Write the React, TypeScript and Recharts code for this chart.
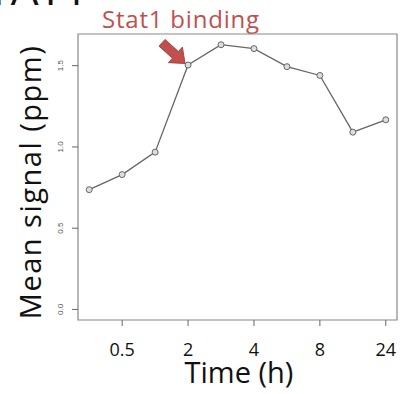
import { LineChart, Line, XAxis, YAxis, ReferenceArea, Customized } from 'recharts';

// mean STAT1 signal at each of the ten sampled time points
const signal = [0.737, 0.83, 0.968, 1.504, 1.629, 1.605, 1.494, 1.44, 1.091, 1.167];
// only every second time point gets a label on the axis
const timeTicks = [2, 4, 6, 8, 10];
const timeLabels = ['0.5', '2', '4', '8', '24'];
const signalTicks = [0, 0.5, 1, 1.5];
const bindingIndex = 3;

const data = signal.map((v, i) => ({ t: i + 1, v }));

const X_DOMAIN: [number, number] = [0.66, 10.34];
const Y_DOMAIN: [number, number] = [-0.065, 1.695];
const GREY = '#666';
const RED = '#c0504d';

const XTick = (props: any) => {
  const i = timeTicks.indexOf(props.payload.value);
  return (
    <text x={props.x} y={356} textAnchor="middle" fontSize={18} fontFamily="Open Sans" fill="#111">
      {timeLabels[i]}
    </text>
  );
};

const YTick = (props: any) => (
  <text
    x={63}
    y={props.y}
    transform={`rotate(-90, 63, ${props.y})`}
    textAnchor="middle"
    fontSize={8}
    fontFamily="Liberation Sans"
    fill="#555"
  >
    {props.payload.value.toFixed(1)}
  </text>
);

// open circle per point; the binding point also gets the block arrow
const Dot = (props: any) => {
  const { cx, cy, index } = props;
  const arrow =
    index === bindingIndex ? (
      <polygon
        points="0,-4.5 18,-4.5 18,-10.5 31,0 18,10.5 18,4.5 0,4.5"
        transform={`translate(${cx - 3}, ${cy - 1.5}) rotate(42) translate(-31, 0)`}
        fill={RED}
        stroke="#9e3a36"
        strokeWidth={0.8}
      />
    ) : null;
  return (
    <g key={`dot-${index}`}>
      {arrow}
      <circle cx={cx} cy={cy} r={3} fill="#ddd" stroke={GREY} strokeWidth={1} />
    </g>
  );
};

const Titles = () => (
  <g fontFamily="Open Sans">
    <text x={88} y={5} textAnchor="end" fontSize={44} fill="#111">
      STAT1
    </text>
    <text x={102} y={28} fontSize={24} letterSpacing={0.8} fill={RED}>
      Stat1 binding
    </text>
    <text x={239} y={383} textAnchor="middle" fontSize={29} fill="#111">
      Time (h)
    </text>
    <text
      x={41}
      y={182}
      transform="rotate(-90, 41, 182)"
      textAnchor="middle"
      fontSize={29}
      letterSpacing={1.5}
      fill="#111"
    >
      Mean signal (ppm)
    </text>
  </g>
);

export default function App() {
  return (
    <div style={{ position: 'absolute', left: 0, top: 0, background: '#fff' }}>
      <LineChart width={400} height={394} data={data} margin={{ top: 34, right: 3, bottom: 0, left: 0 }}>
        <XAxis
          dataKey="t"
          type="number"
          domain={X_DOMAIN}
          ticks={timeTicks}
          allowDataOverflow
          axisLine={false}
          tickLine={{ stroke: GREY }}
          tickSize={6}
          height={74}
          tick={<XTick />}
        />
        <YAxis
          type="number"
          domain={Y_DOMAIN}
          ticks={signalTicks}
          allowDataOverflow
          axisLine={false}
          tickLine={{ stroke: GREY }}
          tickSize={6}
          width={78}
          tick={<YTick />}
        />
        <ReferenceArea
          x1={X_DOMAIN[0]}
          x2={X_DOMAIN[1]}
          y1={Y_DOMAIN[0]}
          y2={Y_DOMAIN[1]}
          fill="none"
          stroke="#888"
          strokeWidth={1.2}
          ifOverflow="visible"
        />
        <Line
          dataKey="v"
          stroke={GREY}
          strokeWidth={1.3}
          dot={<Dot />}
          isAnimationActive={false}
        />
        <Customized component={Titles} />
      </LineChart>
    </div>
  );
}
